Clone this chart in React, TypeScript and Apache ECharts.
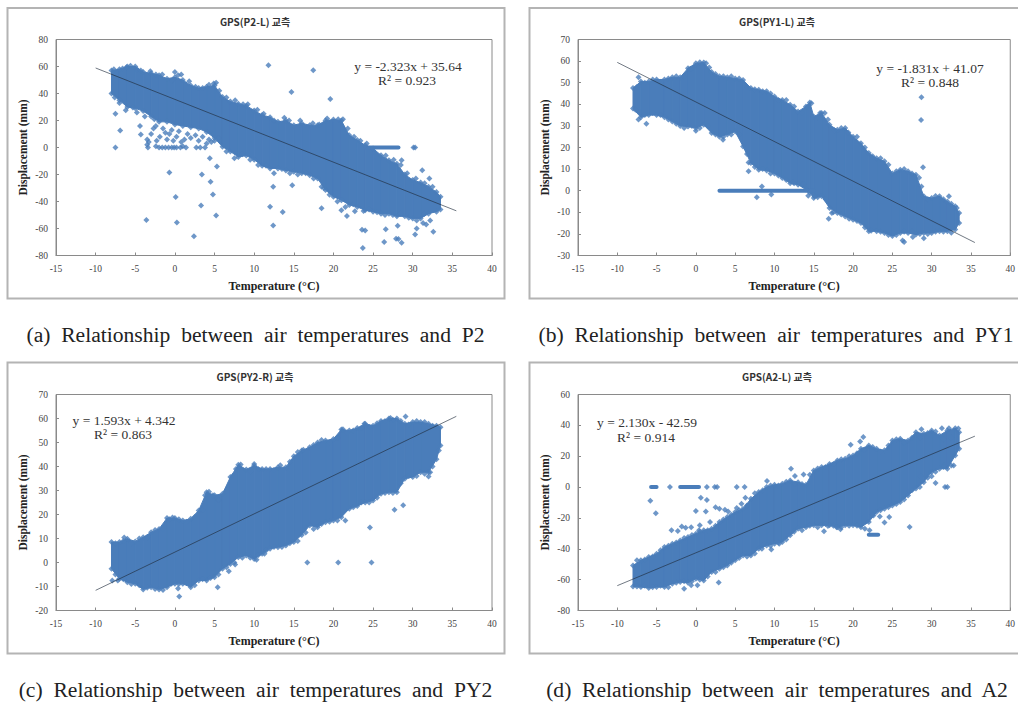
import React, { useEffect, useRef } from "react";
import * as echarts from "echarts";

const xTicksMin = -15;
const xTicksMax = 40;

// Dense cloud outlines: [temperature, lowest, highest]
const cloudA = [[-8,40,57],[-7,35,58],[-6,30,60],[-5,29,60],[-4,27,56],[-3,23,55],[-2,19,53.5],[-1,19,51],[0,17,52],[1,16,50],[2,15,46],[3,14,44],[4,11.5,45],[5,7,46],[6,0.5,37.5],[7,-3,34],[8,-7,32.5],[9,-6,31],[10,-9,27.5],[11,-13.5,24],[12,-15.5,22.5],[13,-15.5,19],[14,-17,20],[15,-18,16.5],[16,-19,18],[17,-20.5,16.5],[18,-23,16.5],[19,-31.5,20],[20,-36.5,20.7],[21,-39,20],[22,-42.5,9],[23,-44,5.5],[24,-46.5,1.7],[25,-47.5,-0.7],[26,-49,-5.7],[27,-49,-9.4],[28,-51,-12],[29,-51,-20],[30,-52.5,-24],[31,-52.5,-26],[32,-49,-29],[33,-47.5,-33],[33.5,-46,-36.5]];
const cloudB = [[-8,38,47.5],[-7,34,50.5],[-6,35,50.5],[-5,35,51.5],[-4,34,51.5],[-3,32,52.5],[-2,30,52.5],[-1,29.7,56.7],[0,29,59],[1,30.5,59.3],[2,26.7,55],[3,25,53],[4,26,52.5],[5,27.4,52],[6,20.5,51.3],[7,12.8,47.5],[8,9.7,46.7],[9,9.4,46],[10,8,43.6],[11,5.9,42],[12,3.5,39.8],[13,2.8,36.7],[14,0.5,39],[14.5,-1,40.8],[15,-3.4,34.4],[16,-2.6,36],[17,-8,30.5],[18,-10.3,28.2],[19,-11.9,29],[20,-13.4,25],[21,-15,22],[22,-18.8,17.4],[23,-18.8,15],[24,-19.6,13.6],[25,-21,8],[26,-19.6,9.7],[27,-19.6,9],[28,-20.3,7.4],[29,-19.6,-2.6],[30,-19.6,-3.4],[31,-18.8,-2.6],[32,-18.8,-5],[33,-18,-7.2],[33.5,-15,-10.3]];
const cloudC = [[-8,-2.6,8.5],[-7,-6.8,8.5],[-6,-8.2,9.9],[-5,-8.9,8.8],[-4,-11.2,10.5],[-3,-10.3,12.6],[-2,-11.2,14],[-1,-10.3,18.5],[0,-8.9,18.5],[1,-8.9,17.5],[2,-10.3,18.2],[3,-7.5,21.7],[4,-7.5,29.3],[5,-6.1,28],[6,-2.6,28.6],[7,-0.6,35.6],[8,2.2,40.7],[9,2.9,38.8],[10,1.5,40.4],[11,3.6,39],[12,5.7,39],[13,6.4,39.7],[14,7.1,39.7],[15,8.5,44.3],[16,11.5,46.7],[17,15.4,48],[18,14.7,50],[19,16.8,50.8],[20,17.5,51.5],[21,18.9,55.4],[22,22.4,55],[23,23.5,56],[24,25,57.8],[25,25.8,57],[26,28.6,59],[27,29.3,60],[28,29.3,60],[29,34.9,57.8],[30,35.6,58.5],[31,37.6,58.5],[32,37.6,57.8],[33,43,57],[33.5,48.8,56.4]];
const cloudD = [[-8,-64.4,-50.8],[-7,-64.8,-47.5],[-6,-65.4,-45.4],[-5,-64.8,-43.2],[-4,-64.8,-38.9],[-3,-62.6,-36.7],[-2,-61.6,-34.6],[-1,-62,-32.4],[0,-59.4,-30.2],[1,-60.5,-28],[2,-55,-27],[3,-53,-22.7],[4,-50.8,-19.4],[5,-47.5,-16.2],[6,-44.3,-14],[7,-44.3,-7.6],[8,-40,-3.2],[9,-37.8,0],[10,-36.7,1.5],[11,-35.6,2.2],[12,-31.3,4.3],[13,-27,3.2],[14,-26,1.5],[15,-24.8,10.8],[16,-24.8,13],[17,-24.8,15],[18,-26,17.3],[19,-24.8,18.4],[20,-24.8,20.5],[21,-26,24.8],[22,-22.7,27],[23,-16.2,24.8],[24,-14,23.8],[25,-11.9,30.2],[26,-9.7,31.3],[27,-5.4,30.2],[28,-1,35.6],[29,3.2,34.6],[30,9.7,36.7],[31,11.9,33.5],[32,11.9,36.7],[33,20.5,38.2],[33.5,24.8,35.6]];

// Isolated points
const pointsA = [[11.8,60.9],[17.45,57.2],[14.7,41.2],[19.6,36],[0,56],[5.2,48],[-7.5,0],[-6.9,12.6],[-7.5,25],[-6.2,27.6],[-5.3,29.6],[-4.4,16],[-4.3,9.6],[-0.7,-18.5],[0.1,-36.7],[0.25,-55.5],[-3.6,-53.7],[2.4,-65.8],[3.3,-43],[3.4,-20],[4.5,-25.4],[4.8,-34.8],[5.2,-50.3],[5.3,-14],[4.4,-7.9],[12,-43.9],[12.4,-57.7],[13.6,-47.8],[12.4,-29],[14.8,-28],[18.5,-45],[18.5,-29],[23.6,-61],[24,-61.4],[23.7,-74.5],[26.6,-60.6],[26.4,-70],[28.1,-58],[27.9,-67.6],[28.2,-67.8],[28.6,-70.5],[30.5,-60],[30.3,-64.4],[32.6,-62.4],[31.2,-16.8],[32.1,-23],[30.1,0],[30.3,0],[31.3,-56],[31.7,-57],[32.2,-54],[21.7,-50.8],[21,-46.4],[22.7,-47.3],[23.8,-47],[28.6,-9.4],[-3.5,2],[-3.4,0],[-2.4,1],[-2,0],[-1.6,0],[-1.2,0],[-0.8,0],[-0.4,0],[-0.1,0],[0.2,0],[0.7,0],[1,1],[1.4,0],[2.7,0],[3.2,0],[3.8,0],[4,3],[4.6,4],[5,5],[5.5,7],[-3,10],[-2.7,14],[-2.3,5],[-2.4,16],[-1.9,8],[-1.5,14],[-1.2,11],[-1,6],[-0.7,10],[-0.4,13],[-0.2,5],[0.2,8],[0.5,12],[0.8,4],[1.2,6],[1.6,10],[2,7],[2.6,9],[3,5],[3.5,8],[4.3,6],[4.9,10],[-3.3,4],[-3.5,6]];
const pointsB = [[-7.3,52.5],[-6.3,31],[28.7,43.3],[28.65,32.7],[28.9,10.8],[7.75,-3],[9.6,-1.8],[6.7,9],[6.7,13],[14.3,-2.3],[15.1,-2.6],[16.9,-13],[17.3,-10.3],[27.6,-21.4],[29,-22],[26.3,-23],[26.5,-23.7],[32.2,-2.6],[3.45,23.6],[0,27.7],[12.4,3.9],[13.7,3],[8.4,2]];
const pointsC = [[16.7,0],[20.6,0],[24.8,0],[24.6,14.6],[27.7,22],[28.8,23.9],[29.1,60.8],[27.2,60.2],[0.55,-14.2],[0.4,-10.8],[5.4,-10.3],[-7.9,-7.5],[-7.2,-7.5],[-6.4,10.4],[33.3,46.7],[32,35.8],[32.2,37.6],[10.3,1.1],[11.3,3.6],[6.8,-3.6],[7.6,-0.8],[23.9,57.8]];
const pointsD = [[-3.3,0],[1.4,0],[2.4,0],[2.7,0],[5.2,0],[6.2,0],[31.7,0],[32,0],[-5.8,-8.8],[-5.1,-17],[0.63,-6.9],[1.4,-8.4],[0,-15.5],[1.26,-15.8],[2.5,-13],[3,-14],[3.7,-14.7],[4.1,-15.8],[5.2,-13.6],[6.3,-6.9],[5.8,-10.8],[6.5,-12.3],[1.8,-22.7],[0.5,-24.8],[-0.6,-26],[-1.3,-26.3],[-1.8,-25.5],[-2.3,-28.5],[-3.1,-28],[0.4,-28],[2.9,-61.8],[-1.5,-65.9],[-0.6,-63.7],[0.2,-63.7],[8.4,-40],[9.6,-40.4],[10.6,-36.7],[12.1,11.9],[13.7,8.2],[12.6,7.1],[9.05,3.9],[19.7,27.4],[21.3,32.4],[20.9,29.6],[27.2,-25.9],[28.6,7],[30.5,2.6],[30,7],[24.6,-19.4],[24,-23],[22.6,-18.4],[23.4,-19],[22.1,-28],[16.3,-28.7],[18.4,-27.4],[17.9,-26],[16.8,-25.3],[31.6,14],[32.8,14],[28.7,37.4],[31.3,38.2],[32.2,38.2],[33.4,38]];

// Points along the rough rims of the clouds
const fringeA = [[-7.7,58],[-6.6,58.5],[-6.1,59.5],[-5.6,60.5],[-4.8,58],[-4.3,57],[-3.1,56.5],[-2.4,54],[-1.6,54],[-0.4,49.5],[0.4,53.5],[0.8,54],[1.8,49],[2.6,45],[3.5,44],[4.3,46.5],[4.9,47.5],[5.6,42],[6.5,37],[7.6,35],[8.6,32],[9.2,32],[10.4,28],[11.2,25],[12.5,20],[13.8,22],[14.4,20],[15.8,20],[17.4,18],[18.2,17],[19.2,21.5],[20.6,21],[21.2,21],[21.8,14],[22.6,8],[23.4,5],[24.2,3],[26.6,-6],[27.6,-9],[28.5,-13],[29.3,-19],[30.4,-23],[31.5,-26.5],[32.5,-29],[-7.6,37],[-7,33],[-4.8,26],[-3.8,23],[-2.6,21],[6.5,-3],[7.5,-8],[8.5,-5],[9.5,-9],[10.5,-13],[11.5,-13.5],[12.5,-19],[13.5,-16],[14.5,-19],[15.5,-20],[16.5,-19],[17.5,-23],[18.8,-30],[19.5,-35],[20.5,-40],[21.5,-44],[22.5,-42],[24.5,-46],[25.5,-48],[26.5,-50],[27.5,-50],[28.5,-49],[29.5,-52],[30.5,-54],[31.5,-49]];
const fringeB = [[-7.5,48],[-6.5,50],[-5.5,51.5],[-4.5,50],[-3.5,52],[-2.5,53],[-1.5,53],[-0.7,56.5],[-0.3,57],[0.5,59.5],[1.3,59],[1.7,57],[2.5,54],[3.5,53],[4.5,53],[5.5,52],[6.5,48],[7.5,47],[8.5,46],[9.5,45],[10.5,42],[11.5,42],[12.5,39],[13.5,36],[14.2,39],[14.7,40.5],[15.5,34],[15.8,36],[16.4,36],[16.8,33],[17.6,28],[18.5,29],[19.4,27],[20.5,25],[21.5,20],[22.5,16],[23.5,15],[24.5,12],[25.5,9],[26.5,10],[27.5,8],[28.4,6],[28.7,2],[29.5,-4],[30.5,-2.5],[31.5,-4],[32.5,-6],[33.2,-8],[-7.7,37.5],[-7.3,33],[-6.5,35],[-5.5,36],[-4.5,35],[-3.5,33],[-2.5,31],[-1.5,29],[-0.5,30],[0.5,29],[1.5,30],[2.5,26],[3.5,25],[4.5,26],[5.5,26],[6.5,17],[7.5,11],[8.5,10],[9.5,8],[10.5,7],[11.5,5],[12.5,3.5],[13.5,3],[15.5,-3],[16.5,-4],[17.5,-10],[18.5,-11],[19.5,-13],[20.5,-14],[21.5,-17],[22.3,-18.5],[23.5,-19],[24.5,-20.5],[25.5,-20.5],[26.5,-19],[27.5,-19],[28.5,-20],[29.5,-20],[30.5,-19],[31.5,-19],[32.5,-19.5]];
const fringeC = [[-7.5,8],[-6.5,9],[-5.5,8],[-4.5,10],[-3.5,10.5],[-2.5,13.5],[-1.5,14],[-0.7,18],[-0.3,18.8],[0.5,18],[1.5,17],[2.5,19],[3.5,22],[3.8,28],[4.3,29.5],[4.8,28],[5.5,26],[6.5,30],[7.3,36],[7.7,39],[8.3,40.8],[9.5,38],[10,41],[10.5,39],[11.5,39],[12.5,38.5],[13.3,40.5],[14.5,42],[15.5,46],[16.2,47],[17.5,49],[18.5,51],[19.5,50],[20.5,52],[21.2,55.5],[21.7,54],[22.5,55],[23.5,56],[24.5,56.5],[25.5,58],[26.5,59],[27.5,59.5],[28.5,59],[29.5,57.5],[30.5,59],[31.5,58.5],[32.5,57],[-7.5,-5],[-6.5,-7],[-5.5,-9],[-4.5,-9.5],[-3.5,-10.5],[-2.5,-11],[-1.5,-11.5],[-0.5,-9],[0.5,-9],[1.5,-8.5],[2.5,-9.5],[3.5,-7],[4.5,-6.5],[5.5,-5],[6.5,-2],[7.5,0],[8.5,2],[9.5,2],[10.5,3],[11.5,5],[12.5,6.5],[13.5,6.5],[14.5,8],[15.5,9],[16.5,12.5],[17.5,14],[18.5,16],[19.5,17],[20.5,17.5],[21.5,17.5],[22.5,23],[23.5,25],[24.5,25],[25.5,27],[26.5,29],[27.5,29],[28.5,33],[29.5,36],[30.5,36],[31.5,37],[32.5,40]];
const fringeD = [[-7.5,-47.5],[-6.5,-47],[-5.5,-45],[-4.5,-41],[-3.5,-38],[-2.5,-36],[-1.5,-33],[-0.5,-31],[0.5,-29],[1.5,-28],[2.5,-25],[3.5,-21],[4.5,-18],[5.5,-15],[6.5,-12],[7.5,-4],[8.5,-2],[9.5,1],[10.5,1],[11.5,3.5],[12.5,2],[13.5,2],[14.5,8],[15.5,12],[16.5,13],[17.5,15],[18.5,18],[19.5,20],[20.5,22],[21.5,24],[22.5,26],[23.5,23],[24.5,27],[25.5,31],[26.5,29],[27.5,32],[28.5,32],[29.5,35],[30.5,36],[31.5,31],[32.5,32],[-7.5,-64.5],[-6.5,-64],[-5.5,-65],[-4.5,-64],[-3.5,-65],[-2.5,-62],[-1.5,-61],[-0.5,-61],[0.5,-60],[1.5,-58],[2.5,-55],[3.5,-52],[4.5,-49],[5.5,-46],[6.5,-45],[7.5,-43],[8.5,-38],[9.5,-38],[10.5,-36],[11.5,-34],[12.5,-29],[13.5,-28],[14.5,-25],[15.5,-26],[16.5,-24],[17.5,-25],[18.5,-26],[19.5,-25],[20.5,-25],[21.5,-27],[22.5,-18],[23.5,-15],[24.5,-13],[25.5,-11],[26.5,-8],[27.5,-2],[28.5,0],[29.5,6],[30.5,10],[31.5,13],[32.5,14]];

// Runs of points so close that they read as a bar
const runsA = [[[24,0],[28.2,0]]];
const runsB = [[[3,0],[15,0]]];
const runsC: number[][][] = [];
const runsD = [[[-5.7,0],[-5,0]],[[-2,0],[0.4,0]],[[22,-30.9],[23.2,-30.9]]];

// Trend lines, end to end
const trendA = [[-10,58.9],[35.5,-46.9]];
const trendB = [[-10,59.4],[35.5,-24]];
const trendC = [[-10,-11.6],[35.5,60.9]];
const trendD = [[-10,-63.9],[35.5,33]];

const panelTitles = ["GPS(P2-L) 교측", "GPS(PY1-L) 교측", "GPS(PY2-R) 교측", "GPS(A2-L) 교측"];
const equations = ["y = -2.323x + 35.64", "y = -1.831x + 41.07", "y = 1.593x + 4.342", "y = 2.130x - 42.59"];
const rSquared = ["R² = 0.923", "R² = 0.848", "R² = 0.863", "R² = 0.914"];
const captions = [
  "(a)  Relationship  between  air  temperatures  and  P2",
  "(b)  Relationship  between  air  temperatures  and  PY1",
  "(c)  Relationship  between  air  temperatures  and  PY2",
  "(d)  Relationship  between  air  temperatures  and  A2",
];
const yMins = [-80, -30, -20, -80];
const yMaxs = [80, 70, 70, 60];
const yIntervals = [20, 10, 10, 20];

const BLUE = "#4a7dba";
const SERIF = "Liberation Serif";
const clouds = [cloudA, cloudB, cloudC, cloudD];
const points = [pointsA, pointsB, pointsC, pointsD];
const fringes = [fringeA, fringeB, fringeC, fringeD];
const runs = [runsA, runsB, runsC, runsD];
const trends = [trendA, trendB, trendC, trendD];

const grids = [
  { left: 56, top: 39.5, width: 436, height: 216 },
  { left: 578, top: 39.5, width: 435, height: 216 },
  { left: 56, top: 394.5, width: 436, height: 216 },
  { left: 578, top: 394.5, width: 435, height: 216 },
];
const frames = [
  { x: 7.5, y: 8, width: 497, height: 290.5 },
  { x: 529.5, y: 8, width: 520, height: 290.5 },
  { x: 7.5, y: 362.5, width: 497, height: 291 },
  { x: 529.5, y: 362.5, width: 520, height: 291 },
];
const titleAt = [[255, 16], [777, 16], [255, 371], [777, 371]];
const eqAt = [[408, 66, 407, 80], [930, 68, 930, 82], [124, 420, 123, 434], [647, 422, 646, 437]];
const captionAt = [[255.5, 335], [776, 335], [255.5, 690], [777, 690]];

function bandItem(rows: number[][]) {
  return (params: any, api: any) => {
    const i = params.dataIndex;
    if (i >= rows.length - 1) return { type: "group", children: [] };
    const [x0, lo0, hi0] = rows[i];
    const [x1, lo1, hi1] = rows[i + 1];
    const pts = [api.coord([x0, lo0]), api.coord([x0, hi0]), api.coord([x1, hi1]), api.coord([x1, lo1])];
    return { type: "polygon", shape: { points: pts }, style: { fill: BLUE, stroke: BLUE, lineWidth: 1 } };
  };
}

function buildOption() {
  const series: any[] = [];
  clouds.forEach((rows, k) => {
    series.push({
      type: "custom", xAxisIndex: k, yAxisIndex: k, renderItem: bandItem(rows), data: rows,
      encode: { x: 0, y: [1, 2] }, silent: true, z: 2,
    });
    const edge = rows.flatMap((r) => [[r[0], r[1]], [r[0], r[2]]]);
    series.push({
      type: "scatter", xAxisIndex: k, yAxisIndex: k, data: edge.concat(fringes[k], points[k]),
      symbol: "diamond", symbolSize: 6, itemStyle: { color: BLUE }, silent: true, z: 3,
    });
    runs[k].forEach((run) => {
      series.push({
        type: "line", xAxisIndex: k, yAxisIndex: k, data: run, showSymbol: false,
        lineStyle: { color: BLUE, width: 4, cap: "round" }, silent: true, z: 3,
      });
    });
    series.push({
      type: "line", xAxisIndex: k, yAxisIndex: k, data: trends[k], showSymbol: false,
      lineStyle: { color: "#1f2c3c", width: 0.8, opacity: 0.8 }, silent: true, z: 4,
    });
  });

  const graphic: any[] = [];
  frames.forEach((f) => {
    graphic.push({ type: "rect", shape: f, style: { fill: "none", stroke: "#b4b4b4", lineWidth: 2 }, silent: true });
  });
  eqAt.forEach((p, k) => {
    graphic.push({ type: "text", x: p[0], y: p[1], style: { text: equations[k], font: `13.5px "${SERIF}"`, fill: "#333", align: "center", verticalAlign: "middle" }, silent: true });
    graphic.push({ type: "text", x: p[2], y: p[3], style: { text: rSquared[k], font: `13.5px "${SERIF}"`, fill: "#333", align: "center", verticalAlign: "middle" }, silent: true });
  });
  captionAt.forEach((p, k) => {
    graphic.push({ type: "text", x: p[0], y: p[1], style: { text: captions[k], font: `21.6px "${SERIF}"`, fill: "#222", align: "center", verticalAlign: "middle" }, silent: true });
  });

  return {
    animation: false,
    backgroundColor: "#ffffff",
    title: panelTitles.map((t, k) => ({
      text: t, left: titleAt[k][0], top: titleAt[k][1], textAlign: "center", padding: 0,
      textStyle: { fontFamily: "Noto Sans CJK KR", fontSize: 10, fontWeight: "bold", color: "#333" },
    })),
    grid: grids.map((g) => ({ ...g, show: true, borderColor: "#8a8a8a", borderWidth: 1, backgroundColor: "transparent" })),
    xAxis: grids.map((_, k) => ({
      type: "value", gridIndex: k, min: xTicksMin, max: xTicksMax, interval: 5,
      name: "Temperature (°C)", nameLocation: "middle", nameGap: 24,
      nameTextStyle: { fontFamily: SERIF, fontSize: 12, fontWeight: "bold", color: "#222" },
      axisLine: { show: true, onZero: false, lineStyle: { color: "#8a8a8a" } },
      axisTick: { show: true, inside: true, length: 3, lineStyle: { color: "#8a8a8a" } },
      axisLabel: { fontFamily: SERIF, fontSize: 9.5, color: "#444", margin: 8, showMinLabel: true, showMaxLabel: true, hideOverlap: false },
      splitLine: { show: false },
    })),
    yAxis: grids.map((_, k) => ({
      type: "value", gridIndex: k, min: yMins[k], max: yMaxs[k], interval: yIntervals[k],
      name: "Displacement (mm)", nameLocation: "middle", nameGap: 27, nameRotate: 90,
      nameTextStyle: { fontFamily: SERIF, fontSize: 11.5, fontWeight: "bold", color: "#222" },
      axisLine: { show: true, onZero: false, lineStyle: { color: "#8a8a8a" } },
      axisTick: { show: true, inside: true, length: 3, lineStyle: { color: "#8a8a8a" } },
      axisLabel: { fontFamily: SERIF, fontSize: 9.5, color: "#444", margin: 8, showMinLabel: true, showMaxLabel: true, hideOverlap: false },
      splitLine: { show: false },
    })),
    series,
    graphic,
  };
}

export default function App() {
  const ref = useRef<HTMLDivElement>(null);
  useEffect(() => {
    const chart = echarts.init(ref.current!, undefined, { renderer: "svg" });
    chart.setOption(buildOption() as any);
    return () => chart.dispose();
  }, []);
  return <div ref={ref} style={{ position: "fixed", left: 0, top: 0, width: 1018, height: 703 }} />;
}
